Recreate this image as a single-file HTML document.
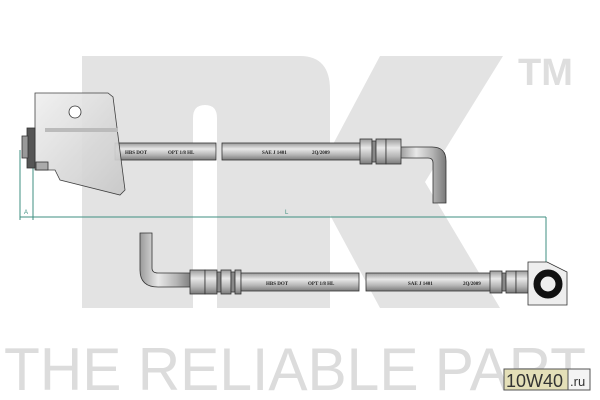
<!DOCTYPE html>
<html><head><style>html,body{margin:0;padding:0;background:#fff}svg{display:block}</style></head>
<body>
<svg width="600" height="400" viewBox="0 0 600 400" xmlns="http://www.w3.org/2000/svg">
<defs>
<linearGradient id="tube" x1="0" y1="0" x2="0" y2="1">
<stop offset="0" stop-color="#9a9a9a"/><stop offset="0.35" stop-color="#e8e8e8"/><stop offset="0.7" stop-color="#b5b5b5"/><stop offset="1" stop-color="#7a7a7a"/></linearGradient>
<linearGradient id="tubev" x1="0" y1="0" x2="1" y2="0">
<stop offset="0" stop-color="#9a9a9a"/><stop offset="0.35" stop-color="#e8e8e8"/><stop offset="0.7" stop-color="#b5b5b5"/><stop offset="1" stop-color="#7a7a7a"/></linearGradient>
<linearGradient id="brk" x1="0" y1="0" x2="1" y2="1">
<stop offset="0" stop-color="#f0f0f0"/><stop offset="1" stop-color="#c8c8c8"/></linearGradient>
</defs>
<g fill="#e3e3e3">
<path d="M82,308 V56 H300 Q330,56 330,90 V308 H217 V118 Q217,105 205,105 Q193,105 193,118 V308 Z"/>
<polygon points="330,150 380,56 503,56 425,182 500,308 380,308 330,215"/>
<text x="518" y="85" font-family="Liberation Sans, sans-serif" font-size="38" font-weight="bold" fill="#dedede">TM</text>
</g>
<text x="4" y="390" font-family="Liberation Sans, sans-serif" font-size="60" fill="#dcdcdc" textLength="582" lengthAdjust="spacingAndGlyphs">THE RELIABLE PART</text>
<g stroke="#3f8f80" stroke-width="1" fill="none">
<line x1="20" y1="217" x2="546" y2="217"/>
<line x1="20" y1="150" x2="20" y2="220"/>
<line x1="33" y1="150" x2="33" y2="220"/>
<line x1="546" y1="217" x2="546" y2="285"/>
</g>
<text x="24" y="214" font-size="6" fill="#3f8f80" font-family="Liberation Sans">A</text>
<text x="285" y="214" font-size="6" fill="#3f8f80" font-family="Liberation Sans">L</text>
<g stroke="#333" stroke-width="0.8">
<rect x="115" y="143" width="101" height="17" fill="url(#tube)"/>
<rect x="222" y="143" width="140" height="17" fill="url(#tube)"/>
<path d="M400,147 H432 Q446,147 446,161 V203 H433 V163 Q433,158 428,158 H400 Z" fill="url(#tubev)"/>
<rect x="360" y="139" width="12" height="25" fill="url(#tube)"/>
<rect x="372" y="141" width="4" height="21" fill="#888"/>
<rect x="376" y="139" width="10" height="25" fill="url(#tube)"/>
<rect x="386" y="139" width="15" height="25" fill="url(#tube)"/>
<path d="M35,93 H108 L113,97 L125,190 L120,195 L60,180 L55,170 L35,170 Z" fill="url(#brk)" opacity="0.92"/>
<circle cx="75" cy="112" r="6" fill="#fff"/>
<rect x="27" y="128" width="8" height="40" fill="#555"/>
<rect x="22" y="136" width="6" height="22" fill="#999"/>
<rect x="36" y="162" width="12" height="8" fill="#aaa"/>
</g>
<rect x="45" y="128" width="73" height="4" fill="#bbb"/>
<g font-family="Liberation Serif, serif" font-size="5" fill="#222" font-weight="bold">
<text x="125" y="154">HBS DOT</text><text x="168" y="154">OPT 1/8 HL</text>
<text x="262" y="154">SAE J 1401</text><text x="312" y="154">2Q/2009</text>
</g>
<g stroke="#333" stroke-width="0.8">
<path d="M140,233 H152 V268 Q152,273 158,273 H192 V287 H158 Q140,287 140,270 Z" fill="url(#tubev)"/>
<rect x="190" y="270" width="15" height="24" fill="url(#tube)"/>
<rect x="205" y="270" width="12" height="24" fill="url(#tube)"/>
<rect x="217" y="272" width="4" height="20" fill="#888"/>
<rect x="221" y="270" width="10" height="24" fill="url(#tube)"/>
<rect x="231" y="272" width="4" height="20" fill="#888"/>
<rect x="235" y="270" width="6" height="24" fill="url(#tube)"/>
<rect x="241" y="273" width="118" height="18" fill="url(#tube)"/>
<rect x="366" y="273" width="126" height="18" fill="url(#tube)"/>
<rect x="490" y="271" width="12" height="22" fill="url(#tube)"/>
<rect x="502" y="273" width="4" height="18" fill="#888"/>
<rect x="506" y="271" width="10" height="22" fill="url(#tube)"/>
<rect x="516" y="271" width="12" height="22" fill="url(#tube)"/>
<path d="M528,262 H547 L567,272 V305 H528 Z" fill="#eee"/>
</g>
<circle cx="548" cy="284" r="11" fill="none" stroke="#111" stroke-width="7"/>
<g font-family="Liberation Serif, serif" font-size="5" fill="#222" font-weight="bold">
<text x="266" y="285">HBS DOT</text><text x="308" y="285">OPT 1/8 HL</text>
<text x="408" y="285">SAE J 1401</text><text x="463" y="285">2Q/2009</text>
</g>
<rect x="504" y="369" width="64" height="21" fill="#e4dfb8" stroke="#555" stroke-width="1"/>
<rect x="568" y="369" width="22" height="21" fill="#f4f4f4" stroke="#555" stroke-width="1"/>
<text x="506" y="387" font-family="Liberation Sans, sans-serif" font-size="18" fill="#333">10W40</text>
<text x="570" y="386" font-family="Liberation Sans, sans-serif" font-size="13" fill="#333">.ru</text>
</svg>
</body></html>
